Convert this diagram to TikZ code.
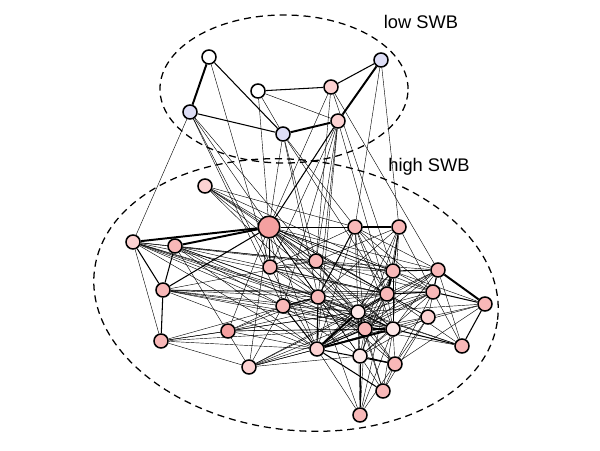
\documentclass[tikz,border=0pt]{standalone}
\usepackage{fontspec}
\setmainfont{Liberation Sans}

\definecolor{lav}{RGB}{222,222,246}
\definecolor{pk}{RGB}{248,184,184}
\definecolor{lpk}{RGB}{252,210,210}
\definecolor{vlpk}{RGB}{253,232,232}
\definecolor{salmon}{RGB}{244,160,160}

\pgfdeclarelayer{ties}
\pgfsetlayers{ties,main}

\begin{document}
\begin{tikzpicture}[x=0.025cm, y=-0.025cm,
    person/.style={circle, draw=black, line width=1.1pt, inner sep=0pt, minimum size=0.35cm},
    tie/.style={line width=0.3pt},
    midtie/.style={line width=0.75pt},
    strongtie/.style={line width=1.4pt},
    group/.style={dash pattern=on 5pt off 3.5pt, line width=0.9pt},
    grouplabel/.style={font=\fontsize{13}{15}\selectfont}]

  \useasboundingbox (0,0) rectangle (600,450);

  % --- the two groups ---
  \draw[group] (284,89) ellipse [x radius=3.1cm, y radius=1.85cm];
  \draw[group, rotate around={-7:(296,295)}] (296,295) ellipse [x radius=5.075cm, y radius=3.375cm];
  \node[grouplabel] (lowlabel) at (421,22) {low SWB};
  \node[grouplabel] (highlabel) at (429,167) {high SWB};

  % --- low SWB ---
  \node[person, fill=white] (lo1) at (209,57) {};
  \node[person, fill=lav]   (lo2) at (190,112) {};
  \node[person, fill=white] (lo3) at (258,91) {};
  \node[person, fill=lpk]   (lo4) at (331,87) {};
  \node[person, fill=lav]   (lo5) at (381,60) {};
  \node[person, fill=lav]   (lo6) at (283,134) {};
  \node[person, fill=lpk]   (lo7) at (338,121) {};

  % --- high SWB ---
  \node[person, fill=lpk]    (hi1)  at (205,186) {};
  \node[person, fill=salmon, minimum size=0.54cm] (hi2) at (269,227) {};
  \node[person, fill=lpk]    (hi3)  at (133,242) {};
  \node[person, fill=pk]     (hi4)  at (175,246) {};
  \node[person, fill=pk]     (hi5)  at (270,267) {};
  \node[person, fill=pk]     (hi6)  at (163,290) {};
  \node[person, fill=pk]     (hi7)  at (355,227) {};
  \node[person, fill=pk]     (hi8)  at (399,227) {};
  \node[person, fill=pk]     (hi9)  at (316,261) {};
  \node[person, fill=pk]     (hi10) at (393,271) {};
  \node[person, fill=pk]     (hi11) at (438,270) {};
  \node[person, fill=pk]     (hi12) at (318,297) {};
  \node[person, fill=pk]     (hi13) at (387,294) {};
  \node[person, fill=pk]     (hi14) at (433,292) {};
  \node[person, fill=pk]     (hi15) at (485,304) {};
  \node[person, fill=pk]     (hi16) at (283,306) {};
  \node[person, fill=salmon] (hi17) at (228,331) {};
  \node[person, fill=pk]     (hi18) at (161,341) {};
  \node[person, fill=vlpk]   (hi19) at (358,312) {};
  \node[person, fill=lpk]    (hi20) at (428,317) {};
  \node[person, fill=pk]     (hi21) at (365,329) {};
  \node[person, fill=vlpk]   (hi22) at (393,329) {};
  \node[person, fill=pk]     (hi23) at (462,346) {};
  \node[person, fill=lpk]    (hi24) at (317,349) {};
  \node[person, fill=vlpk]   (hi25) at (360,356) {};
  \node[person, fill=pk]     (hi26) at (395,364) {};
  \node[person, fill=lpk]    (hi27) at (249,367) {};
  \node[person, fill=pk]     (hi28) at (383,391) {};
  \node[person, fill=pk]     (hi29) at (360,415) {};

  \begin{pgfonlayer}{ties}
  % --- ties inside low SWB ---
  \draw[strongtie] (lo1) -- (lo2);
  \draw[strongtie] (lo5) -- (lo7);
  \draw[strongtie] (lo6) -- (lo7);
  \foreach \a/\b in {lo1/lo6, lo2/lo6, lo3/lo4, lo4/lo5}
    \draw[midtie] (\a) -- (\b);
  \foreach \a/\b in {lo3/lo7, lo3/lo6}
    \draw[tie] (\a) -- (\b);

  % --- ties between the groups ---
  \foreach \a/\b in {lo2/hi3, lo2/hi5, lo2/hi9, lo2/hi12, lo2/hi16, lo1/hi5,
      lo3/hi2, lo6/hi2, lo6/hi7, lo6/hi9, lo6/hi12, lo6/hi13,
      lo7/hi5, lo7/hi9, lo7/hi12, lo7/hi16, lo7/hi24, lo7/hi13,
      lo4/hi2, lo4/hi9, lo4/hi10, lo4/hi11, lo5/hi7, lo5/hi8}
    \draw[tie] (\a) -- (\b);
  \draw[midtie] (lo7) -- (hi2);

  % --- strong ties inside high SWB ---
  \foreach \a/\b in {hi2/hi3, hi2/hi4, hi21/hi22, hi19/hi24, hi11/hi15,
      hi22/hi24, hi13/hi10}
    \draw[strongtie] (\a) -- (\b);

  % --- medium ties inside high SWB ---
  \foreach \a/\b in {hi3/hi6, hi4/hi6, hi2/hi5, hi2/hi6, hi7/hi8, hi7/hi12,
      hi8/hi10, hi11/hi14, hi12/hi24, hi13/hi19, hi19/hi21, hi24/hi21,
      hi22/hi23, hi24/hi26, hi25/hi26, hi10/hi11, hi13/hi14, hi6/hi18,
      hi14/hi15, hi15/hi23, hi16/hi24, hi19/hi22, hi12/hi16, hi24/hi28}
    \draw[midtie] (\a) -- (\b);

  % --- weak ties inside high SWB ---
  \foreach \a/\b in {hi1/hi2, hi1/hi9, hi1/hi12, hi1/hi13, hi1/hi10, hi1/hi7, hi1/hi19,
      hi2/hi7, hi2/hi8, hi2/hi9, hi2/hi10, hi2/hi11, hi2/hi12, hi2/hi13, hi2/hi14,
      hi2/hi15, hi2/hi16, hi2/hi19, hi2/hi20, hi2/hi21, hi2/hi22, hi2/hi24,
      hi2/hi25, hi2/hi27, hi2/hi17,
      hi3/hi9, hi3/hi12, hi3/hi13, hi3/hi16, hi3/hi19, hi3/hi10, hi3/hi21,
      hi3/hi18, hi3/hi22, hi3/hi24,
      hi4/hi9, hi4/hi12, hi4/hi16, hi4/hi13, hi4/hi19, hi4/hi21, hi4/hi24, hi4/hi27,
      hi5/hi7, hi5/hi9, hi5/hi13, hi5/hi19, hi5/hi21, hi5/hi24, hi5/hi10,
      hi6/hi9, hi6/hi12, hi6/hi16, hi6/hi19, hi6/hi21, hi6/hi22, hi6/hi24,
      hi6/hi13, hi6/hi14,
      hi7/hi10, hi7/hi13, hi7/hi19, hi7/hi21, hi7/hi22, hi7/hi24, hi7/hi14, hi7/hi11,
      hi8/hi13, hi8/hi19, hi8/hi21, hi8/hi22, hi8/hi12, hi8/hi14, hi8/hi9,
      hi9/hi10, hi9/hi13, hi9/hi19, hi9/hi21, hi9/hi22, hi9/hi14, hi9/hi11,
      hi10/hi19, hi10/hi21, hi10/hi22, hi10/hi24, hi10/hi25, hi10/hi14,
      hi11/hi19, hi11/hi21, hi11/hi22, hi11/hi24, hi11/hi13, hi11/hi23, hi11/hi20,
      hi12/hi21, hi12/hi22, hi12/hi23, hi12/hi25, hi12/hi26, hi12/hi14,
      hi13/hi21, hi13/hi22, hi13/hi24, hi13/hi25, hi13/hi23, hi13/hi20,
      hi14/hi19, hi14/hi21, hi14/hi24, hi14/hi25, hi14/hi26, hi14/hi23,
      hi15/hi22, hi15/hi20, hi15/hi19, hi15/hi26,
      hi16/hi21, hi16/hi19, hi16/hi22, hi16/hi25, hi16/hi27, hi16/hi13,
      hi17/hi24, hi17/hi19, hi17/hi21, hi17/hi13, hi17/hi22, hi17/hi12, hi17/hi16,
      hi18/hi24, hi18/hi21, hi18/hi19, hi18/hi27, hi18/hi12, hi18/hi17,
      hi19/hi26, hi19/hi25, hi19/hi23, hi19/hi28, hi19/hi29,
      hi20/hi24, hi20/hi25, hi20/hi21, hi20/hi28, hi20/hi26,
      hi21/hi25, hi21/hi26, hi21/hi28, hi21/hi29, hi21/hi23,
      hi22/hi25, hi22/hi26, hi22/hi28, hi22/hi29,
      hi24/hi27, hi24/hi29, hi25/hi29, hi25/hi28, hi25/hi27,
      hi26/hi28, hi26/hi29, hi27/hi13, hi27/hi21, hi27/hi19, hi27/hi22, hi27/hi14,
      hi29/hi13, hi29/hi12}
    \draw[tie] (\a) -- (\b);
  \end{pgfonlayer}

\end{tikzpicture}
\end{document}
